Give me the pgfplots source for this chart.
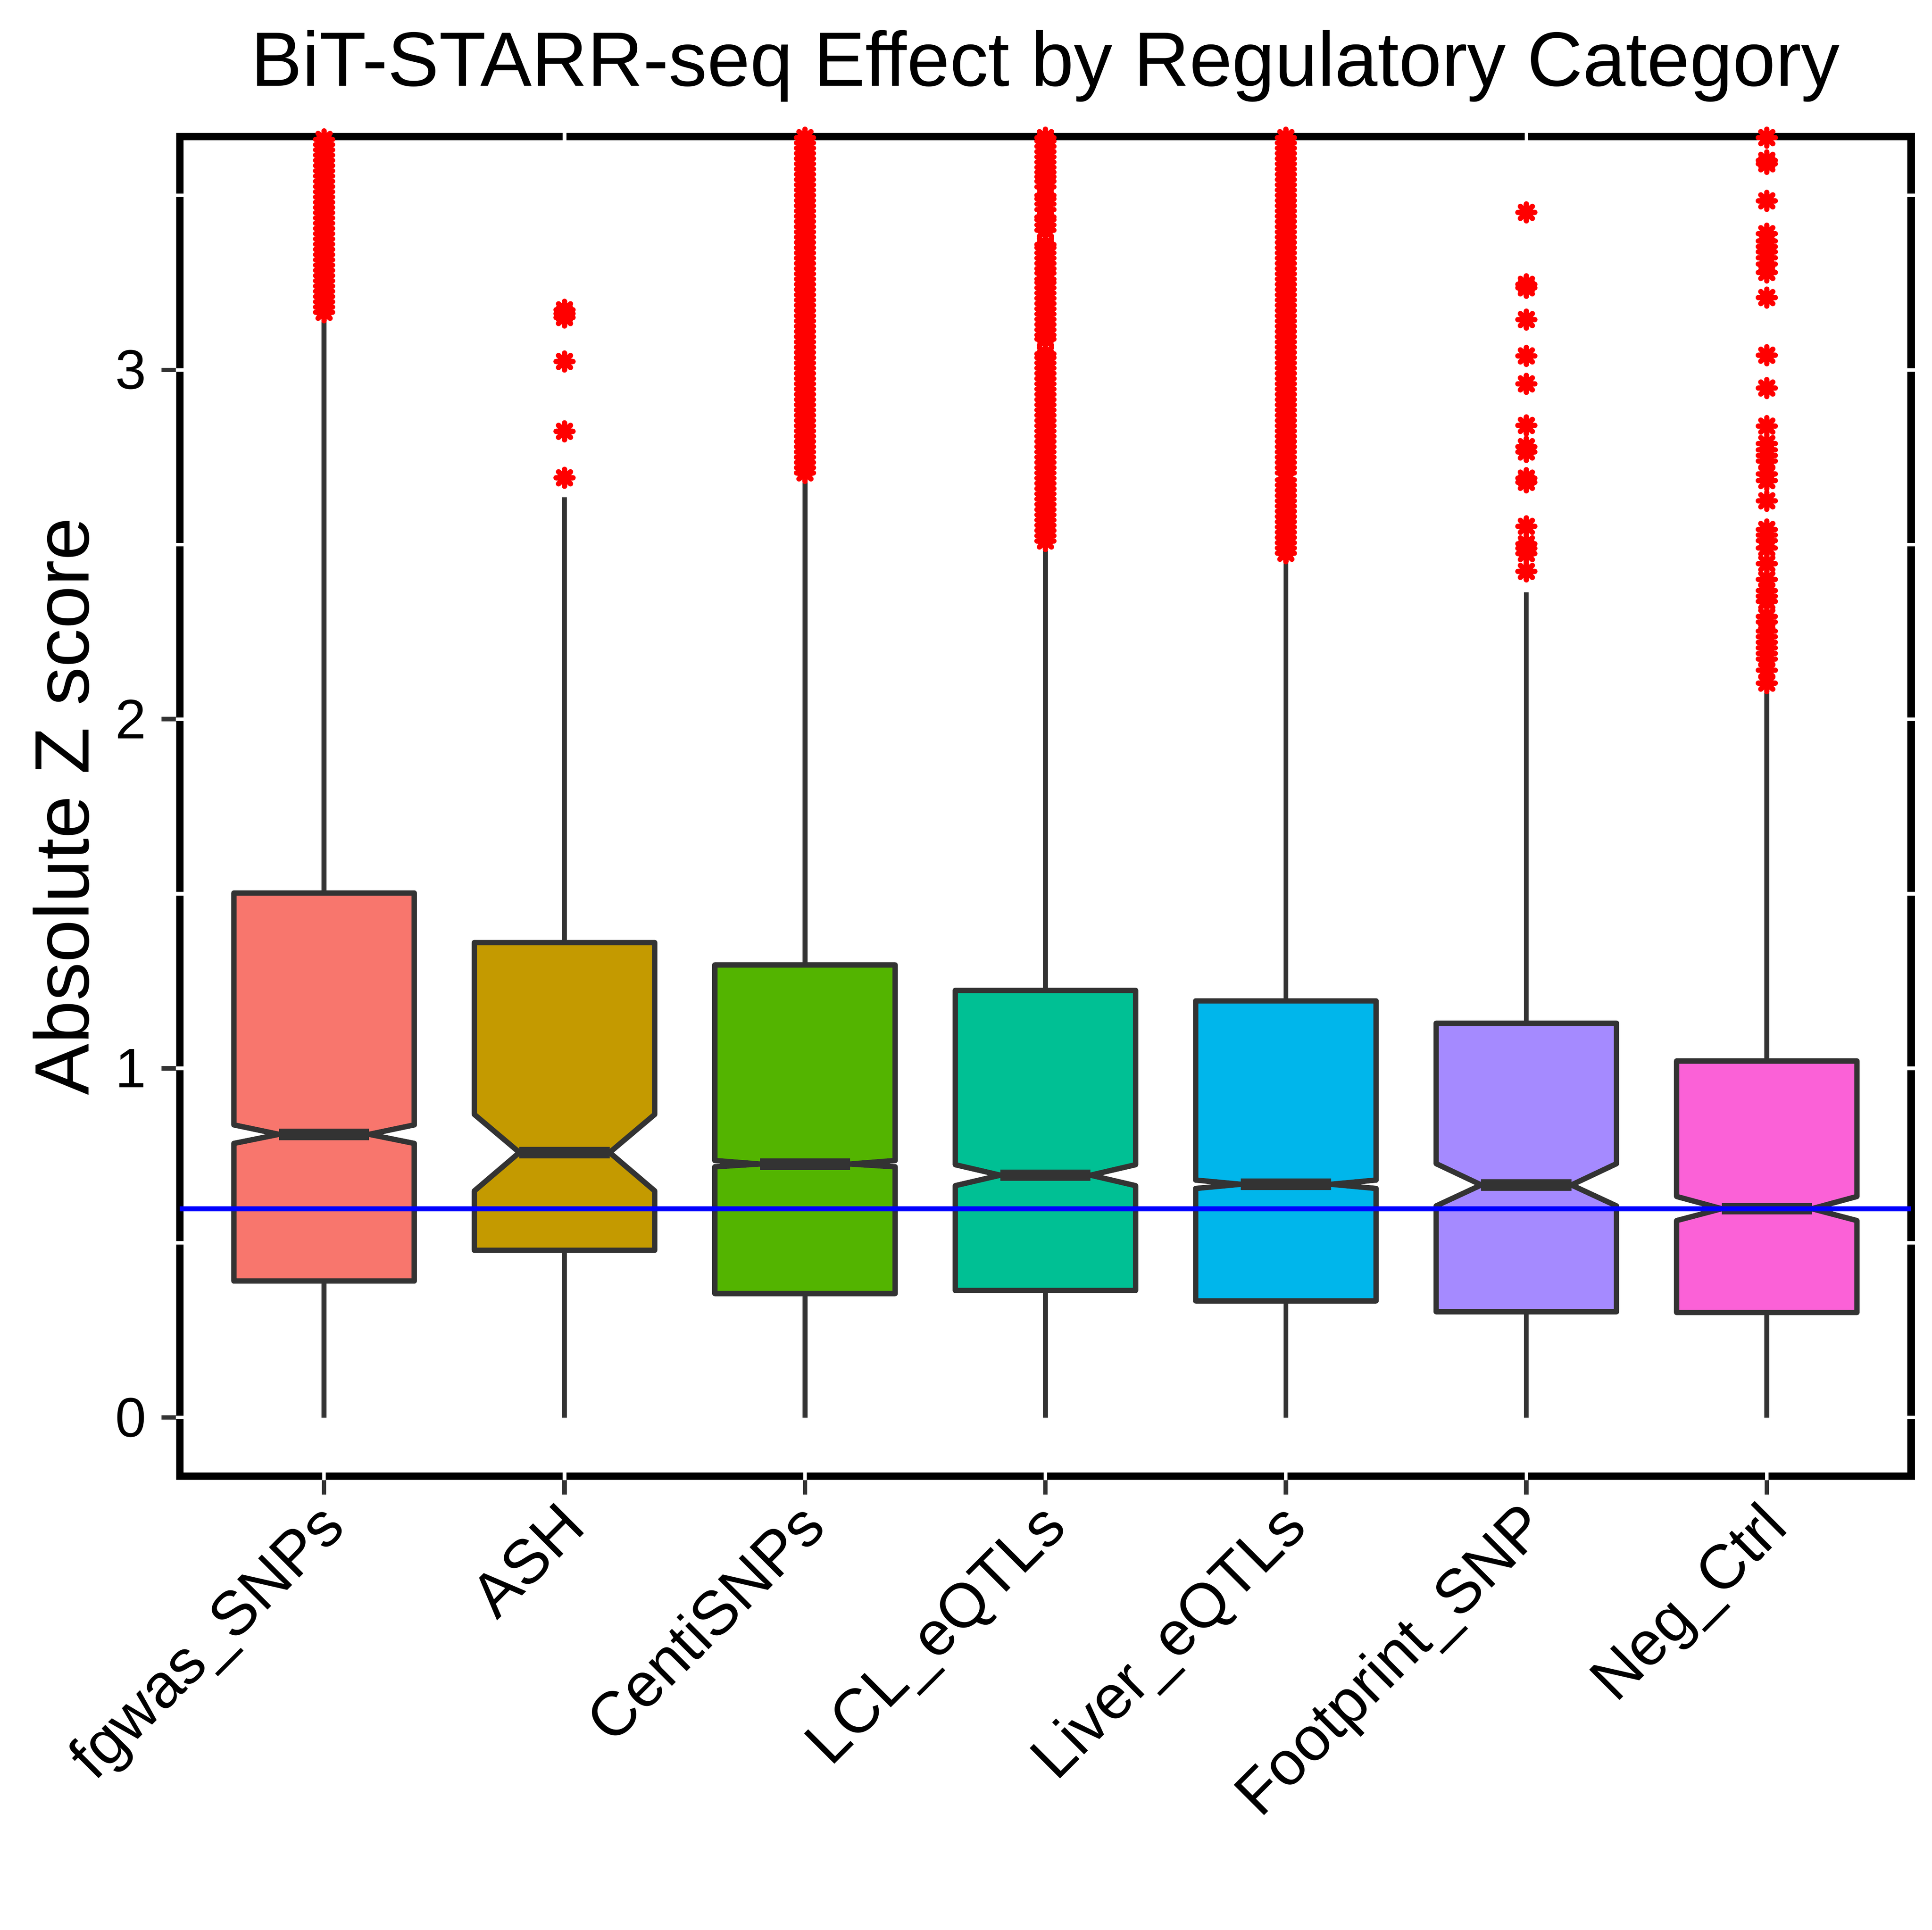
\documentclass[border=0pt]{standalone}
\usepackage{fontspec}
\setmainfont{Liberation Sans}
\usepackage{pgfplots}
\pgfplotsset{compat=1.18}

\definecolor{c1}{HTML}{F8766D}
\definecolor{c2}{HTML}{C49A00}
\definecolor{c3}{HTML}{53B400}
\definecolor{c4}{HTML}{00C094}
\definecolor{c5}{HTML}{00B6EB}
\definecolor{c6}{HTML}{A58AFF}
\definecolor{c7}{HTML}{FB61D7}
\definecolor{edge}{HTML}{333333}

% eight-armed asterisk for the outliers
\pgfdeclareplotmark{ast8}{%
  \pgfpathmoveto{\pgfpoint{-\pgfplotmarksize}{0pt}}\pgfpathlineto{\pgfpoint{\pgfplotmarksize}{0pt}}%
  \pgfpathmoveto{\pgfpoint{0pt}{-\pgfplotmarksize}}\pgfpathlineto{\pgfpoint{0pt}{\pgfplotmarksize}}%
  \pgfpathmoveto{\pgfpoint{-.707\pgfplotmarksize}{-.707\pgfplotmarksize}}\pgfpathlineto{\pgfpoint{.707\pgfplotmarksize}{.707\pgfplotmarksize}}%
  \pgfpathmoveto{\pgfpoint{-.707\pgfplotmarksize}{.707\pgfplotmarksize}}\pgfpathlineto{\pgfpoint{.707\pgfplotmarksize}{-.707\pgfplotmarksize}}%
  \pgfusepathqstroke}

\pgfplotsset{
  whisk/.style={edge, line width=1.1pt, forget plot},
  nbox/.style={draw=edge, fill=#1, line width=1.2pt, line join=round, forget plot},
  med/.style={edge, line width=2.6pt, forget plot},
  outl/.style={only marks, mark=ast8, red, mark size=1.9pt, line width=1.2pt, line cap=round, forget plot},
}

\begin{document}
\begin{tikzpicture}
\path[use as bounding box] (-40.4pt,-101.9pt) rectangle (393.7pt,331.7pt);
\begin{axis}[
  scale only axis, width=389pt, height=301pt,
  xmin=0.4, xmax=7.6, ymin=-0.168, ymax=3.668,
  clip=false,
  axis line style={black, line width=1.7pt},
  xtick={1,2,3,4,5,6,7},
  xticklabels={fgwas\_SNPs, ASH, CentiSNPs, LCL\_eQTLs, Liver\_eQTLs, Footprint\_SNP, Neg\_Ctrl},
  ytick={0,1,2,3},
  tick align=outside, tick pos=left,
  major tick length=4.1pt,
  tick style={edge, line width=1pt},
  ticklabel style={font=\fontsize{12.5}{15}\selectfont, black},
  /pgf/number format/assume math mode=true,
  xticklabel style={font=\fontsize{14}{16}\selectfont, inner sep=0pt, text height=0.72em, xshift=0.1pt, yshift=-2.6pt, rotate=45, anchor=north east},
  yticklabel style={inner sep=0pt, xshift=-3.2pt},
  ylabel={Absolute Z score},
  ylabel style={font=\fontsize{17.3}{20}\selectfont, at={(axis description cs:-0.0686,0.5)}, anchor=center},
  title={BiT-STARR-seq Effect by Regulatory Category},
  title style={font=\fontsize{17.3}{20}\selectfont, at={(axis description cs:0.5,1)}, anchor=base, yshift=5.4pt},
]

% whiskers
\addplot[whisk] coordinates {(1,0) (1,0.391)};
\addplot[whisk] coordinates {(1,1.502) (1,3.158)};
\addplot[whisk] coordinates {(2,0) (2,0.479)};
\addplot[whisk] coordinates {(2,1.360) (2,2.635)};
\addplot[whisk] coordinates {(3,0) (3,0.355)};
\addplot[whisk] coordinates {(3,1.296) (3,2.700)};
\addplot[whisk] coordinates {(4,0) (4,0.364)};
\addplot[whisk] coordinates {(4,1.223) (4,2.507)};
\addplot[whisk] coordinates {(5,0) (5,0.334)};
\addplot[whisk] coordinates {(5,1.193) (5,2.474)};
\addplot[whisk] coordinates {(6,0) (6,0.303)};
\addplot[whisk] coordinates {(6,1.129) (6,2.363)};
\addplot[whisk] coordinates {(7,0) (7,0.301)};
\addplot[whisk] coordinates {(7,1.021) (7,2.088)};

% notched boxes: q1, notch low, median, notch high, q3
\addplot[nbox=c1] coordinates {(0.625,0.391) (0.625,0.785) (0.8125,0.811) (0.625,0.838) (0.625,1.502)
  (1.375,1.502) (1.375,0.838) (1.1875,0.811) (1.375,0.785) (1.375,0.391)} -- cycle;
\addplot[nbox=c2] coordinates {(1.625,0.479) (1.625,0.649) (1.8125,0.759) (1.625,0.868) (1.625,1.360)
  (2.375,1.360) (2.375,0.868) (2.1875,0.759) (2.375,0.649) (2.375,0.479)} -- cycle;
\addplot[nbox=c3] coordinates {(2.625,0.355) (2.625,0.718) (2.8125,0.726) (2.625,0.736) (2.625,1.296)
  (3.375,1.296) (3.375,0.736) (3.1875,0.726) (3.375,0.718) (3.375,0.355)} -- cycle;
\addplot[nbox=c4] coordinates {(3.625,0.364) (3.625,0.664) (3.8125,0.694) (3.625,0.724) (3.625,1.223)
  (4.375,1.223) (4.375,0.724) (4.1875,0.694) (4.375,0.664) (4.375,0.364)} -- cycle;
\addplot[nbox=c5] coordinates {(4.625,0.334) (4.625,0.656) (4.8125,0.668) (4.625,0.680) (4.625,1.193)
  (5.375,1.193) (5.375,0.680) (5.1875,0.668) (5.375,0.656) (5.375,0.334)} -- cycle;
\addplot[nbox=c6] coordinates {(5.625,0.303) (5.625,0.606) (5.8125,0.666) (5.625,0.727) (5.625,1.129)
  (6.375,1.129) (6.375,0.727) (6.1875,0.666) (6.375,0.606) (6.375,0.303)} -- cycle;
\addplot[nbox=c7] coordinates {(6.625,0.301) (6.625,0.564) (6.8125,0.598) (6.625,0.633) (6.625,1.021)
  (7.375,1.021) (7.375,0.633) (7.1875,0.598) (7.375,0.564) (7.375,0.301)} -- cycle;

% medians
\addplot[med] coordinates {(0.8125,0.811) (1.1875,0.811)};
\addplot[med] coordinates {(1.8125,0.759) (2.1875,0.759)};
\addplot[med] coordinates {(2.8125,0.726) (3.1875,0.726)};
\addplot[med] coordinates {(3.8125,0.694) (4.1875,0.694)};
\addplot[med] coordinates {(4.8125,0.668) (5.1875,0.668)};
\addplot[med] coordinates {(5.8125,0.666) (6.1875,0.666)};
\addplot[med] coordinates {(6.8125,0.598) (7.1875,0.598)};

% outliers
\addplot[outl] coordinates {
(1,3.165) (1,3.18) (1,3.195) (1,3.21) (1,3.225) (1,3.24) (1,3.255) (1,3.27) (1,3.285) (1,3.3)
(1,3.315) (1,3.33) (1,3.345) (1,3.36) (1,3.375) (1,3.39) (1,3.405) (1,3.42) (1,3.435) (1,3.45)
(1,3.465) (1,3.48) (1,3.495) (1,3.51) (1,3.525) (1,3.54) (1,3.555) (1,3.57) (1,3.585) (1,3.6)
(1,3.615) (1,3.63) (1,3.645) (1,3.66)};
\addplot[outl] coordinates {(2,2.691) (2,2.824) (2,3.024) (2,3.150) (2,3.161) (2,3.172)};
\addplot[outl] coordinates {
(3,2.705) (3,2.72) (3,2.735) (3,2.75) (3,2.765) (3,2.78) (3,2.795) (3,2.81) (3,2.825) (3,2.84)
(3,2.855) (3,2.87) (3,2.885) (3,2.9) (3,2.915) (3,2.93) (3,2.945) (3,2.96) (3,2.975) (3,2.99)
(3,3.005) (3,3.02) (3,3.035) (3,3.05) (3,3.065) (3,3.08) (3,3.095) (3,3.11) (3,3.125) (3,3.14)
(3,3.155) (3,3.17) (3,3.185) (3,3.2) (3,3.215) (3,3.23) (3,3.245) (3,3.26) (3,3.275) (3,3.29)
(3,3.305) (3,3.32) (3,3.335) (3,3.35) (3,3.365) (3,3.38) (3,3.395) (3,3.41) (3,3.425) (3,3.44)
(3,3.455) (3,3.47) (3,3.485) (3,3.5) (3,3.515) (3,3.53) (3,3.545) (3,3.56) (3,3.575) (3,3.59)
(3,3.605) (3,3.62) (3,3.635) (3,3.65) (3,3.665)};
\addplot[outl] coordinates {
(4,2.51) (4,2.525) (4,2.54) (4,2.555) (4,2.57) (4,2.585) (4,2.6) (4,2.615) (4,2.63) (4,2.645)
(4,2.66) (4,2.675) (4,2.69) (4,2.705) (4,2.72) (4,2.735) (4,2.75) (4,2.765) (4,2.78) (4,2.795)
(4,2.81) (4,2.825) (4,2.84) (4,2.855) (4,2.87) (4,2.885) (4,2.9) (4,2.915) (4,2.93) (4,2.945)
(4,2.96) (4,2.975) (4,2.99) (4,3.005) (4,3.02) (4,3.035) (4,3.046) (4,3.088) (4,3.1) (4,3.115)
(4,3.13) (4,3.145) (4,3.16) (4,3.175) (4,3.19) (4,3.205) (4,3.22) (4,3.235) (4,3.25) (4,3.26)
(4,3.277) (4,3.29) (4,3.305) (4,3.32) (4,3.335) (4,3.35) (4,3.359) (4,3.40) (4,3.415) (4,3.43)
(4,3.438) (4,3.459) (4,3.475) (4,3.49) (4,3.50) (4,3.524) (4,3.54) (4,3.553) (4,3.566) (4,3.58)
(4,3.595) (4,3.61) (4,3.625) (4,3.64) (4,3.655) (4,3.665)};
\addplot[outl] coordinates {
(5,2.475) (5,2.49) (5,2.505) (5,2.52) (5,2.535) (5,2.55) (5,2.565) (5,2.58) (5,2.595) (5,2.61)
(5,2.625) (5,2.64) (5,2.655) (5,2.67) (5,2.685)
(5,2.705) (5,2.72) (5,2.735) (5,2.75) (5,2.765) (5,2.78) (5,2.795) (5,2.81) (5,2.825) (5,2.84)
(5,2.855) (5,2.87) (5,2.885) (5,2.9) (5,2.915) (5,2.93) (5,2.945) (5,2.96) (5,2.975) (5,2.99)
(5,3.005) (5,3.02) (5,3.035) (5,3.05) (5,3.065) (5,3.08) (5,3.095) (5,3.11) (5,3.125) (5,3.14)
(5,3.155) (5,3.17) (5,3.185) (5,3.2) (5,3.215) (5,3.23) (5,3.245) (5,3.26) (5,3.275) (5,3.29)
(5,3.305) (5,3.32) (5,3.335) (5,3.35) (5,3.365) (5,3.38) (5,3.395) (5,3.41) (5,3.425) (5,3.44)
(5,3.455) (5,3.47) (5,3.485) (5,3.5) (5,3.515) (5,3.53) (5,3.545) (5,3.56) (5,3.575) (5,3.59)
(5,3.605) (5,3.62) (5,3.635) (5,3.65) (5,3.665)};
\addplot[outl] coordinates {
(6,2.423) (6,2.474) (6,2.489) (6,2.502) (6,2.552) (6,2.678) (6,2.690) (6,2.765) (6,2.780) (6,2.841)
(6,2.960) (6,3.040) (6,3.144) (6,3.235) (6,3.245) (6,3.451)};
\addplot[outl] coordinates {
(7,2.103) (7,2.140) (7,2.172) (7,2.188) (7,2.204) (7,2.220) (7,2.236) (7,2.252) (7,2.278) (7,2.294)
(7,2.337) (7,2.352) (7,2.368) (7,2.400) (7,2.445) (7,2.490) (7,2.511) (7,2.527) (7,2.543) (7,2.625)
(7,2.683) (7,2.702) (7,2.739) (7,2.755) (7,2.771) (7,2.789) (7,2.839) (7,2.948) (7,3.042) (7,3.207)
(7,3.279) (7,3.303) (7,3.321) (7,3.338) (7,3.353) (7,3.369) (7,3.390) (7,3.484) (7,3.590) (7,3.600)
(7,3.665)};

% reference line at the Neg_Ctrl median
\addplot[blue, line width=1.15pt, forget plot] coordinates {(0.4,0.598) (7.6,0.598)};

% white grid gaps through the panel border
\pgfplotsinvokeforeach{0,0.5,1,1.5,2,2.5,3,3.5}{
  \draw[white, line width=0.8pt] ([xshift=-0.9pt]axis cs:0.4,#1) -- ([xshift=0.9pt]axis cs:0.4,#1);
  \draw[white, line width=0.8pt] ([xshift=-0.9pt]axis cs:7.6,#1) -- ([xshift=0.9pt]axis cs:7.6,#1);
}
\pgfplotsinvokeforeach{1,2,3,4,5,6,7}{
  \draw[white, line width=0.8pt] ([yshift=-0.9pt]axis cs:#1,-0.168) -- ([yshift=0.9pt]axis cs:#1,-0.168);
  \draw[white, line width=0.8pt] ([yshift=-0.9pt]axis cs:#1,3.668) -- ([yshift=0.9pt]axis cs:#1,3.668);
}
\end{axis}
\end{tikzpicture}
\end{document}
